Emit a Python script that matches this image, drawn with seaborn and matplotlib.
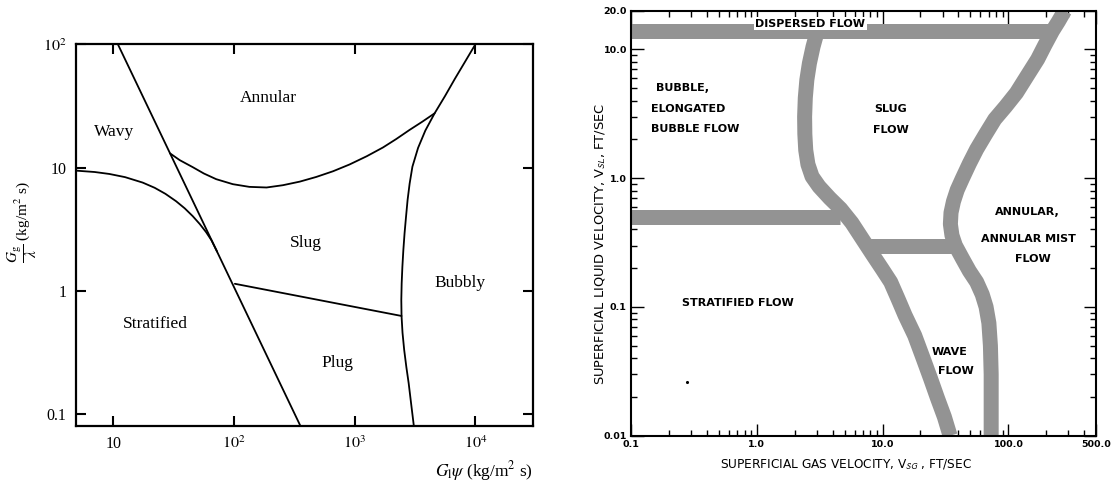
import numpy as np
import pandas as pd
import matplotlib
matplotlib.use("Agg")
import matplotlib.pyplot as plt
import seaborn as sns
from matplotlib.ticker import FixedLocator, FixedFormatter, NullFormatter

# ---------------- Left panel (Baker map) data ----------------
# steep straight boundary (wavy/annular | stratified/slug/plug)
steep_x = [10.9, 355.0]
steep_y = [100.0, 0.08]
# stratified / wavy boundary
strat_x = [4.9, 7.0, 9.27, 12.5, 17.5, 22.0, 27.0, 33.1, 39.0, 45.5, 52.0, 58.7, 65.0, 72.4]
strat_y = [9.44, 9.20, 8.87, 8.36, 7.55, 6.85, 6.12, 5.33, 4.67, 4.03, 3.48, 2.99, 2.57, 2.08]
# annular / slug boundary
ann_x = [29.5, 35.5, 45.5, 56.2, 71.1, 97.7, 134.0, 186.0, 254.0, 351.0, 480.0,
         661.0, 906.0, 1259.0, 1714.0, 2213.0, 2844.0, 3631.0, 4592.0]
ann_y = [13.03, 11.48, 10.07, 8.95, 8.05, 7.33, 6.97, 6.89, 7.19, 7.69, 8.39,
         9.33, 10.59, 12.36, 14.55, 17.06, 20.18, 23.55, 27.54]
# bubbly boundary
bub_x = [10000, 8222, 6761, 5598, 4592, 3846, 3350, 3006, 2851, 2742, 2661, 2588,
         2529, 2483, 2449, 2432, 2443, 2489, 2570, 2679, 2799, 2938, 3090]
bub_y = [100.0, 72.4, 52.5, 38.0, 27.54, 19.95, 14.45, 10.16, 7.41, 5.46, 3.98, 2.93,
         2.14, 1.57, 1.148, 0.843, 0.625, 0.457, 0.331, 0.240, 0.178, 0.120, 0.080]
# slug / plug boundary
plug_x = [101.6, 2443.0]
plug_y = [1.14, 0.625]

left_labels = ["Annular", "Wavy", "Slug", "Bubbly", "Stratified", "Plug"]
left_lab_x = [194, 10.2, 391, 7480, 22.5, 714]
left_lab_y = [36.5, 19.5, 2.43, 1.15, 0.54, 0.259]

left_xticks = [10, 100, 1000, 10000]
left_xticklabels = ["10", "$10^2$", "$10^3$", "$10^4$"]
left_yticks = [0.1, 1, 10, 100]
left_yticklabels = ["0.1", "1", "10", "$10^2$"]

# ---------------- Right panel (Mandhane map) data ----------------
disp_x = [0.1, 224.0]
disp_y = [13.9, 13.9]
annb_x = [280, 250, 224, 195, 171, 142, 116, 95, 78, 66, 56, 49, 43, 39.2, 36.6,
          35.0, 34.6, 35.6, 37.9, 43.2, 49, 56, 62, 66.5, 70, 72, 73, 73]
annb_y = [20, 16.5, 13.9, 10.8, 8.4, 6.3, 4.6, 3.6, 2.87, 2.2, 1.68, 1.3, 0.99, 0.81,
          0.66, 0.54, 0.44, 0.36, 0.30, 0.237, 0.19, 0.156, 0.125, 0.10, 0.075, 0.05,
          0.03, 0.01]
bsl_x = [3.03, 2.80, 2.62, 2.50, 2.43, 2.40, 2.41, 2.45, 2.55, 2.75, 3.13, 3.8, 4.64,
         5.7, 6.9, 8.4, 10.0, 11.6, 13.3, 15.1, 18.0, 21.0, 24.0, 27.3, 31.0, 34.4]
bsl_y = [13.9, 10.5, 7.8, 5.8, 4.2, 3.0, 2.2, 1.65, 1.28, 1.03, 0.86, 0.70, 0.578,
         0.45, 0.338, 0.252, 0.195, 0.156, 0.115, 0.086, 0.060, 0.040, 0.028, 0.0196,
         0.014, 0.01]
h1_x = [0.1, 4.6]
h1_y = [0.50, 0.50]
h2_x = [7.3, 37.9]
h2_y = [0.30, 0.30]
dot_x = [0.28]
dot_y = [0.0259]

right_xticks = [0.1, 1, 10, 100, 500]
right_xticklabels = ["0.1", "1.0", "10.0", "100.0", "500.0"]
right_yticks = [0.01, 0.1, 1, 10, 20]
right_yticklabels = ["0.01", "0.1", "1.0", "10.0", "20.0"]
right_xminor = [0.2, 0.3, 0.4, 0.5, 0.6, 0.7, 0.8, 0.9, 2, 3, 4, 5, 6, 7, 8, 9,
                20, 30, 40, 50, 60, 70, 80, 90, 200, 300, 400]
right_yminor = [0.02, 0.03, 0.04, 0.05, 0.06, 0.07, 0.08, 0.09,
                0.2, 0.3, 0.4, 0.5, 0.6, 0.7, 0.8, 0.9, 2, 3, 4, 5, 6, 7, 8, 9]

right_texts = ["BUBBLE,", "ELONGATED", "BUBBLE FLOW", "SLUG", "FLOW",
               "ANNULAR,", "ANNULAR MIST", "FLOW", "STRATIFIED FLOW", "WAVE", "FLOW"]
right_tx = [0.158, 0.145, 0.145, 11.5, 11.6, 141, 143.6, 158, 0.706, 34.4, 38.4]
right_ty = [5.05, 3.47, 2.43, 3.43, 2.37, 0.545, 0.339, 0.237, 0.108, 0.045, 0.0318]
right_tha = ["left", "left", "left", "center", "center", "center", "center", "center",
             "center", "center", "center"]

# ---------------- Figure ----------------
sns.set_theme(style="white")
plt.rcParams["font.family"] = ["Liberation Serif", "DejaVu Serif"]
plt.rcParams["mathtext.fontset"] = "stix"
plt.rcParams["text.color"] = "black"
plt.rcParams["axes.labelcolor"] = "black"
plt.rcParams["xtick.color"] = "black"
plt.rcParams["ytick.color"] = "black"

fig = plt.figure(figsize=(11.19, 4.83), dpi=100)
axL = fig.add_axes([0.0679, 0.118, 0.4084, 0.7903])
axR = fig.add_axes([0.5639, 0.0979, 0.4158, 0.880])

# ----- left -----
axL.set_xscale("log")
axL.set_yscale("log")
axL.set_xlim(4.9, 3.0e4)
axL.set_ylim(0.08, 100)
for xs, ys in [(steep_x, steep_y), (strat_x, strat_y), (ann_x, ann_y),
               (bub_x, bub_y), (plug_x, plug_y)]:
    sns.lineplot(x=xs, y=ys, ax=axL, sort=False, estimator=None,
                 color="black", linewidth=1.3)
for line in axL.get_lines():
    line.set_solid_joinstyle("round")
for t, x, y in zip(left_labels, left_lab_x, left_lab_y):
    axL.text(x, y, t, ha="center", va="center", fontsize=12.5, color="black",
             family=["Liberation Serif", "DejaVu Serif"])
axL.xaxis.set_major_locator(FixedLocator(left_xticks))
axL.xaxis.set_major_formatter(FixedFormatter(left_xticklabels))
axL.yaxis.set_major_locator(FixedLocator(left_yticks))
axL.yaxis.set_major_formatter(FixedFormatter(left_yticklabels))
axL.minorticks_off()
axL.tick_params(which="major", direction="in", length=7, width=1.5, top=True,
                right=True, labelsize=11.5, pad=7, color="black", labelcolor="black",
                bottom=True, left=True)
for s in axL.spines.values():
    s.set_linewidth(1.6)
    s.set_color("black")
axL.set_ylabel(r"$\dfrac{G_{\mathrm{g}}}{\lambda}$ (kg/m$^2$ s)", fontsize=11,
               color="black")
axL.yaxis.set_label_coords(-0.082, 0.534)
axL.set_xlabel(r"$G_{\mathrm{l}}\psi$ (kg/m$^2$ s)", fontsize=12.5, ha="right",
               color="black")
axL.xaxis.set_label_coords(1.0, -0.087)

# ----- right -----
band_col = "#939393"
band_lw = 10.8
axR.set_xscale("log")
axR.set_yscale("log")
axR.set_xlim(0.1, 500)
axR.set_ylim(0.01, 20)
for xs, ys in [(disp_x, disp_y), (annb_x, annb_y), (bsl_x, bsl_y),
               (h1_x, h1_y), (h2_x, h2_y)]:
    sns.lineplot(x=xs, y=ys, ax=axR, sort=False, estimator=None,
                 color=band_col, linewidth=band_lw)
for line in axR.get_lines():
    line.set_solid_capstyle("butt")
    line.set_solid_joinstyle("round")
sns.scatterplot(x=dot_x, y=dot_y, ax=axR, color="black", s=5, linewidth=0)

axR.text(2.66, 15.9, "DISPERSED FLOW", ha="center", va="center", fontsize=8,
         family="DejaVu Sans", weight="bold", color="black",
         bbox=dict(facecolor="white", edgecolor="none", pad=1.2))
for t, x, y, ha in zip(right_texts, right_tx, right_ty, right_tha):
    axR.text(x, y, t, ha=ha, va="center", fontsize=8, family="DejaVu Sans",
             weight="bold", color="black")

axR.xaxis.set_major_locator(FixedLocator(right_xticks))
axR.xaxis.set_major_formatter(FixedFormatter(right_xticklabels))
axR.xaxis.set_minor_locator(FixedLocator(right_xminor))
axR.xaxis.set_minor_formatter(NullFormatter())
axR.yaxis.set_major_locator(FixedLocator(right_yticks))
axR.yaxis.set_major_formatter(FixedFormatter(right_yticklabels))
axR.yaxis.set_minor_locator(FixedLocator(right_yminor))
axR.yaxis.set_minor_formatter(NullFormatter())
axR.tick_params(which="both", direction="in", top=True, right=True, bottom=True,
                left=True, color="black", width=1.0)
axR.tick_params(which="major", length=9, labelsize=6.8, pad=3, labelcolor="black")
axR.tick_params(which="minor", length=4.5)
for lab in axR.get_xticklabels() + axR.get_yticklabels():
    lab.set_family("DejaVu Sans")
    lab.set_weight("bold")
for s in axR.spines.values():
    s.set_linewidth(1.5)
    s.set_color("black")
axR.set_xlabel(r"SUPERFICIAL GAS VELOCITY, V$_{\mathsf{SG}}$ , FT/SEC",
               fontsize=8.7, family="DejaVu Sans", color="black")
axR.xaxis.set_label_coords(0.462, -0.05)
axR.set_ylabel(r"SUPERFICIAL LIQUID VELOCITY, V$_{\mathsf{SL}}$, FT/SEC",
               fontsize=9.4, family="DejaVu Sans", color="black")
axR.yaxis.set_label_coords(-0.049, 0.451)

fig.savefig("out.png", dpi=100, facecolor="white")
